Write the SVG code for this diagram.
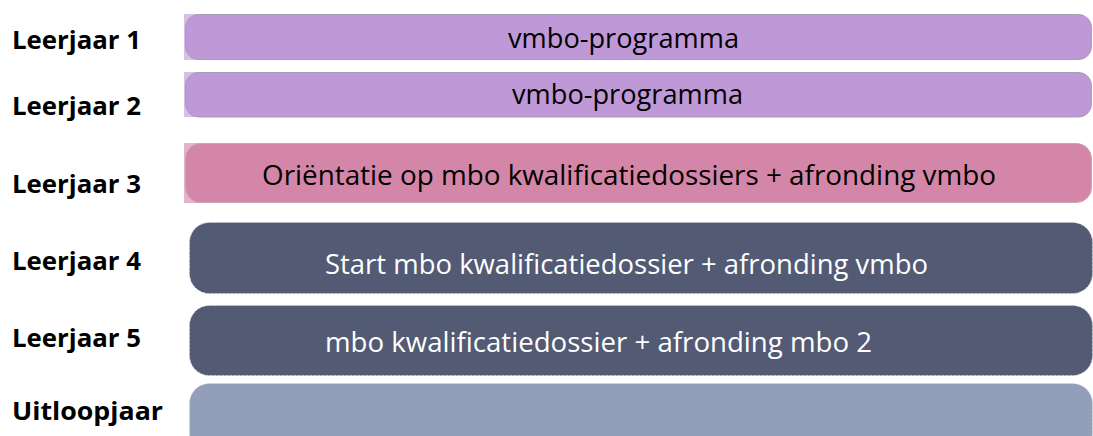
<svg xmlns="http://www.w3.org/2000/svg" width="1093" height="436" viewBox="0 0 1093 436">
<style>
.lbl{font-family:"Open Sans","Liberation Sans",sans-serif;font-weight:bold;font-size:25px;fill:#000}
.txt{font-family:"Open Sans","Liberation Sans",sans-serif;font-size:28px}
.dark{fill:#000}
.light{fill:#fff}
.purple{fill:#BF98D8;stroke:#A99BB3;stroke-width:1}
.pink{fill:#D486A8;stroke:#C9A3B6;stroke-width:1}
.slate{fill:#525A74;stroke:#C8CBD6;stroke-width:1;stroke-dasharray:2 2}
.pale{fill:#939EB9;stroke:#D0D4E0;stroke-width:1;stroke-dasharray:2 2}
</style>
<rect width="1093" height="436" fill="#fff"/>
<g id="label-1"><text class="lbl" x="12" y="49" textLength="129" lengthAdjust="spacingAndGlyphs">Leerjaar 1</text></g>
<g id="label-2"><text class="lbl" x="12" y="115" textLength="129" lengthAdjust="spacingAndGlyphs">Leerjaar 2</text></g>
<g id="label-3"><text class="lbl" x="12" y="193" textLength="129" lengthAdjust="spacingAndGlyphs">Leerjaar 3</text></g>
<g id="label-4"><text class="lbl" x="12" y="270" textLength="129" lengthAdjust="spacingAndGlyphs">Leerjaar 4</text></g>
<g id="label-5"><text class="lbl" x="12" y="347" textLength="129" lengthAdjust="spacingAndGlyphs">Leerjaar 5</text></g>
<g id="label-6"><text class="lbl" x="12" y="420" textLength="151" lengthAdjust="spacingAndGlyphs">Uitloopjaar</text></g>

<g id="bar-1">
<rect x="184" y="14" width="40" height="46" fill="#D7C0E8"/>
<rect class="purple" x="185.5" y="14.5" width="906" height="45" rx="13" ry="13"/>
<text class="txt dark" x="508" y="48" textLength="231" lengthAdjust="spacingAndGlyphs">vmbo-programma</text>
</g>
<g id="bar-2">
<rect x="184" y="72" width="40" height="45" fill="#D7C0E8"/>
<rect class="purple" x="185.5" y="72.5" width="906" height="44.5" rx="13" ry="13"/>
<text class="txt dark" x="512" y="104" textLength="231" lengthAdjust="spacingAndGlyphs">vmbo-programma</text>
</g>
<g id="bar-3">
<rect x="184" y="143" width="40" height="60" fill="#E4B3C9"/>
<rect class="pink" x="185.5" y="143.5" width="906" height="59" rx="15" ry="15"/>
<text class="txt dark" x="262" y="185" textLength="734" lengthAdjust="spacingAndGlyphs">Oriëntatie op mbo kwalificatiedossiers + afronding vmbo</text>
</g>
<g id="bar-4">
<rect class="slate" x="189.5" y="222.5" width="903" height="71" rx="20" ry="20"/>
<text class="txt light" x="325" y="274" textLength="603" lengthAdjust="spacingAndGlyphs">Start mbo kwalificatiedossier + afronding vmbo</text>
</g>
<g id="bar-5">
<rect class="slate" x="189.5" y="305.5" width="903" height="70" rx="20" ry="20"/>
<text class="txt light" x="325" y="352" textLength="547" lengthAdjust="spacingAndGlyphs">mbo kwalificatiedossier + afronding mbo 2</text>
</g>
<g id="bar-6">
<rect class="pale" x="189.5" y="383.5" width="903" height="70" rx="20" ry="20"/>
</g>
<g id="connectors"/>
</svg>
